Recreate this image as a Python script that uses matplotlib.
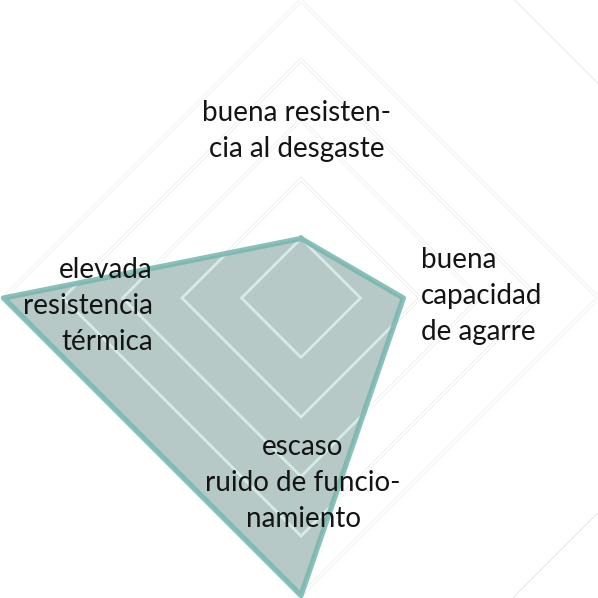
import numpy as np
import matplotlib
matplotlib.use("Agg")
import matplotlib.pyplot as plt

# radar data: axes go top, right, bottom, left
labels = [
    "buena resisten-\ncia al desgaste",
    "buena\ncapacidad\nde agarre",
    "escaso\nruido de funcio-\nnamiento",
    "elevada\nresistencia\ntérmica",
]
values = [1, 1.72, 5, 5]
rings = [1, 2, 3, 4, 5]

FILL = "#b6c9c6"
EDGE = "#74b5ae"
GRID_IN = "#d6ebe8"
GRID_OUT = "#e4e4e4"
TEXT = "#141414"

angles = np.deg2rad([90, 0, -90, 180])

fig = plt.figure(figsize=(5.98, 5.98), dpi=100)
ax = fig.add_axes([0, 0, 1, 1])
ax.set_xlim(-301 / 59.5, 297 / 59.5)
ax.set_ylim(-300 / 59.5, 298 / 59.5)
ax.set_aspect("equal")
ax.axis("off")


def diamond(r):
    a = np.append(angles, angles[0])
    return r * np.cos(a), r * np.sin(a)


# faint outlined grid (visible outside the polygon)
for r in rings:
    gx, gy = diamond(r)
    ax.plot(gx, gy, color=GRID_OUT, lw=2.4, zorder=1, solid_joinstyle="miter")
    ax.plot(gx, gy, color="white", lw=1.7, zorder=1.1, solid_joinstyle="miter")
# far ring, only its right half shows in the corners
far = 8.6
fa = np.deg2rad([90, 0, -90])
ax.plot(far * np.cos(fa), far * np.sin(fa), color=GRID_OUT, lw=0.6, zorder=1)

# data polygon
px = np.array(values) * np.cos(angles)
py = np.array(values) * np.sin(angles)
poly = ax.fill(px, py, color=FILL, zorder=2, lw=0)[0]

# light grid lines inside the polygon
for r in rings:
    gx, gy = diamond(r)
    ln, = ax.plot(gx, gy, color=GRID_IN, lw=2.0, zorder=3, solid_joinstyle="miter")
    ln.set_clip_path(poly)

ax.plot(np.append(px, px[0]), np.append(py, py[0]), color=EDGE, lw=3.8,
        alpha=0.85, zorder=4, solid_joinstyle="round")

font = dict(family="Lato", fontsize=20, color=TEXT, linespacing=1.46, zorder=5)
u = 59.5
ax.text(-4 / u, (298 - 131) / u, labels[0], ha="center", va="center", multialignment="center", **font)
ax.text((421 - 301) / u, (298 - 296) / u, labels[1], ha="left", va="center", multialignment="left", **font)
ax.text(2 / u, (298 - 483) / u, labels[2], ha="center", va="center", multialignment="center", **font)
ax.text((153 - 301) / u, (298 - 306) / u, labels[3], ha="right", va="center", multialignment="right", **font)

fig.savefig("out.png", dpi=100, facecolor="white")
